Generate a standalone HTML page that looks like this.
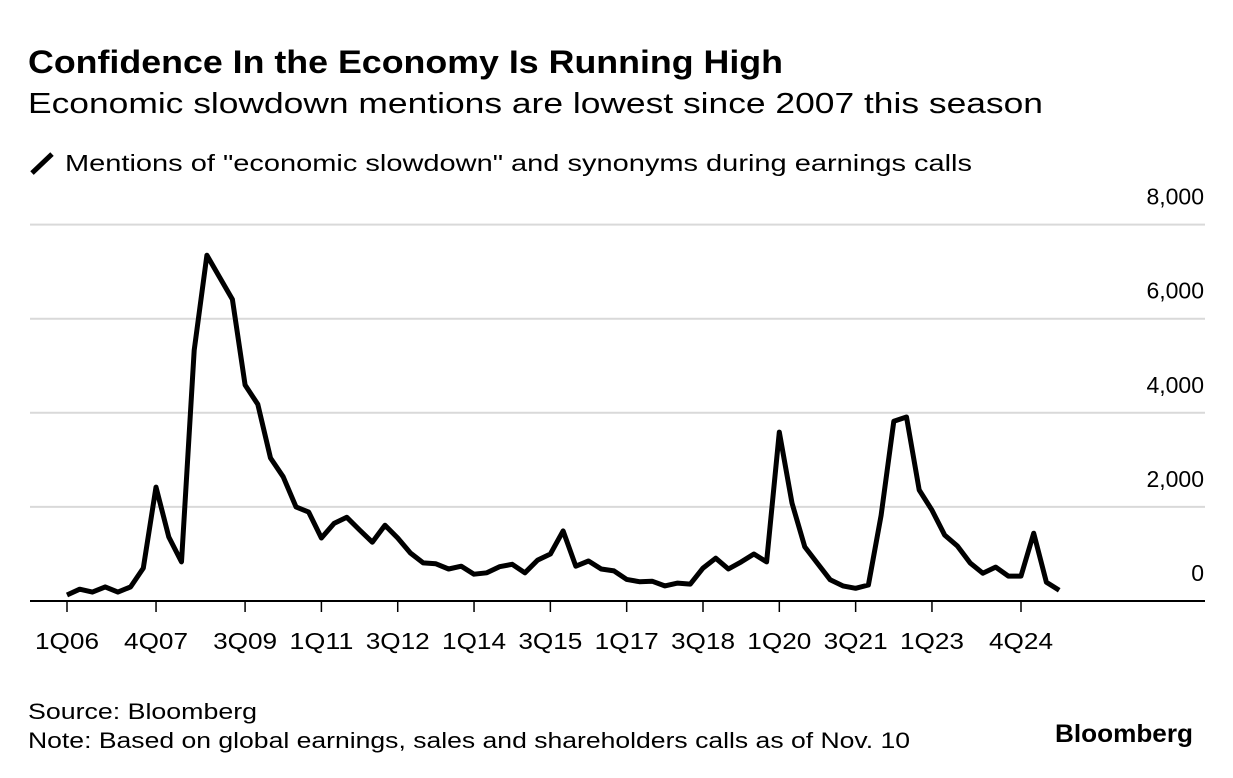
<!DOCTYPE html>
<html><head><meta charset="utf-8"><style>
body{margin:0;background:#fff;width:1233px;height:778px;overflow:hidden;font-family:"Liberation Sans",sans-serif;color:#000}
svg{position:absolute;left:0;top:0}
</style></head><body>
<svg width="1233" height="778">
<text x="28" y="73" font-size="32" font-weight="bold" textLength="755" lengthAdjust="spacingAndGlyphs">Confidence In the Economy Is Running High</text>
<text x="28" y="113" font-size="29" textLength="1015" lengthAdjust="spacingAndGlyphs">Economic slowdown mentions are lowest since 2007 this season</text>
<line x1="32" y1="173" x2="52" y2="154" stroke="#000" stroke-width="5"/>
<text x="65" y="171" font-size="23" textLength="907" lengthAdjust="spacingAndGlyphs">Mentions of "economic slowdown" and synonyms during earnings calls</text>
<g id="grid"></g>
<g id="xaxis"></g>
<path id="line" fill="none" stroke="#000" stroke-width="5" stroke-linejoin="round"/>
<text x="28" y="719" font-size="22" textLength="229" lengthAdjust="spacingAndGlyphs">Source: Bloomberg</text>
<text x="28" y="748" font-size="22" textLength="882" lengthAdjust="spacingAndGlyphs">Note: Based on global earnings, sales and shareholders calls as of Nov. 10</text>
<text x="1055" y="742" font-size="25" font-weight="bold" textLength="138" lengthAdjust="spacingAndGlyphs">Bloomberg</text>
</svg>
<script>
const values=[127,250,190,300,190,300,700,2420,1360,830,5330,7350,6880,6410,4590,4180,3040,2640,2000,1890,1340,1650,1780,1510,1250,1610,1340,1020,810,790,680,740,570,600,730,780,600,870,1000,1490,740,850,680,640,460,410,420,320,380,360,700,910,680,830,1000,830,3590,2080,1150,800,450,320,270,340,1820,3820,3910,2360,1930,1400,1170,810,590,720,530,530,1440,400,230];
const yTicks=[0,2000,4000,6000,8000];
const xTickIdx=[0,7,14,20,26,32,38,44,50,56,62,68,75];
const xTickLabels=["1Q06","4Q07","3Q09","1Q11","3Q12","1Q14","3Q15","1Q17","3Q18","1Q20","3Q21","1Q23","4Q24"];
const NS='http://www.w3.org/2000/svg';
function xs(i){return 67+i*12.72;}
function ys(v){return 601-v*0.04705;}
const grid=document.getElementById('grid');
yTicks.forEach(t=>{
  if(t>0){const l=document.createElementNS(NS,'line');
  l.setAttribute('x1',30);l.setAttribute('x2',1205);l.setAttribute('y1',ys(t));l.setAttribute('y2',ys(t));
  l.setAttribute('stroke','#d9d9d9');l.setAttribute('stroke-width',2);
  
  
  grid.appendChild(l);}
  const tx=document.createElementNS(NS,'text');
  tx.setAttribute('x',1204);tx.setAttribute('y',ys(t)-20);tx.setAttribute('text-anchor','end');tx.setAttribute('font-size',23);
  tx.textContent=t.toLocaleString('en-US');
  
  
  grid.appendChild(tx);
});
const xa=document.getElementById('xaxis');
const base=document.createElementNS(NS,'line');
base.setAttribute('x1',30);base.setAttribute('x2',1205);base.setAttribute('y1',601);base.setAttribute('y2',601);
base.setAttribute('stroke','#000');base.setAttribute('stroke-width',2);


xa.appendChild(base);
xTickIdx.forEach((i,k)=>{
  const l=document.createElementNS(NS,'line');
  l.setAttribute('x1',xs(i));l.setAttribute('x2',xs(i));l.setAttribute('y1',601);l.setAttribute('y2',612);
  l.setAttribute('stroke','#000');l.setAttribute('stroke-width',1.5);
  
  
  xa.appendChild(l);
  const t=document.createElementNS(NS,'text');
  t.setAttribute('x',xs(i));t.setAttribute('y',649);t.setAttribute('text-anchor','middle');t.setAttribute('font-size',23);
  t.setAttribute('textLength',64);t.setAttribute('lengthAdjust','spacingAndGlyphs');
  t.textContent=xTickLabels[k];
  
  
  xa.appendChild(t);
});
document.getElementById('line').setAttribute('d',values.map((v,i)=>(i?'L':'M')+xs(i).toFixed(1)+','+ys(v).toFixed(1)).join(''));
</script>
</body></html>
